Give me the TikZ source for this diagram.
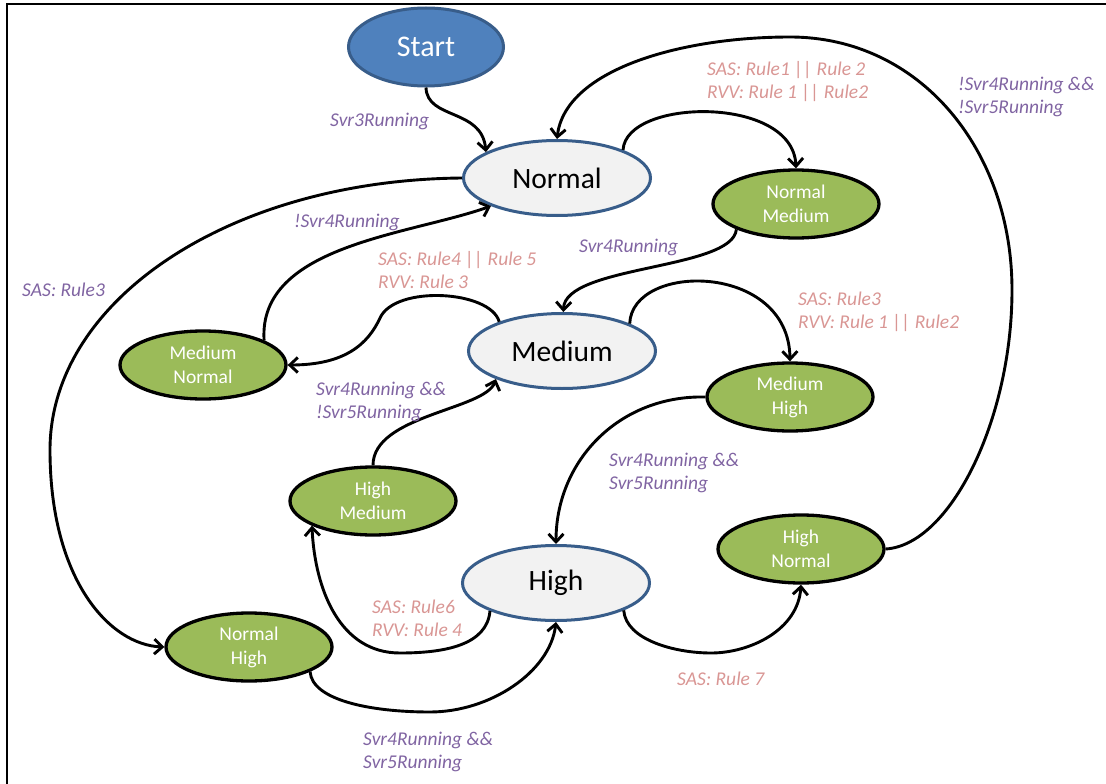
\documentclass[tikz,border=0pt]{standalone}
\usepackage{fontspec}
\setmainfont{Carlito}
\usetikzlibrary{arrows.meta,shapes.geometric}

\definecolor{startfill}{HTML}{4F81BD}
\definecolor{stateline}{HTML}{385D8A}
\definecolor{statefill}{HTML}{F2F2F2}
\definecolor{subfill}{HTML}{9BBB59}
\definecolor{condpurple}{HTML}{8064A2}
\definecolor{rulepink}{HTML}{D99694}

\tikzset{
  startnode/.style={ellipse, draw=stateline, fill=startfill, line width=3pt,
    minimum width=155pt, minimum height=78pt, inner sep=0pt, text=white,
    font=\fontsize{30}{34}\selectfont},
  mainstate/.style={ellipse, draw=stateline, fill=statefill, line width=3pt,
    minimum width=187pt, minimum height=75pt, inner sep=0pt, text=black,
    font=\fontsize{29.5}{34}\selectfont},
  substate/.style={ellipse, draw=black, fill=subfill, line width=3.3pt,
    minimum width=166pt, minimum height=68pt, inner sep=0pt, text=white,
    align=center, font=\fontsize{19.5}{24}\selectfont},
  trans/.style={draw, line width=2.9pt,
    -{Straight Barb[length=8pt,width=15pt]}},
  condlabel/.style={anchor=west, align=left, inner sep=0pt, text=condpurple,
    font=\itshape\fontsize{19.5}{23}\selectfont},
  rulelabel/.style={anchor=west, align=left, inner sep=0pt, text=rulepink,
    font=\itshape\fontsize{19.5}{23}\selectfont},
}

\begin{document}
\begin{tikzpicture}[x=1pt,y=-1pt]
\useasboundingbox (0,0) rectangle (1106,784);

% frame
\draw[line width=2.5pt, line join=miter] (7,784) -- (7,4) -- (1106,4);

% states
\node[startnode] (start)  at (426,47)  {Start};
\node[mainstate] (normal) at (557,178) {Normal};
\node[mainstate] (medium) at (562,351) {Medium};
\node[mainstate] (high)   at (556,583) {High};
\node[substate]  (nm) at (796,204) {Normal\\Medium};
\node[substate]  (mn) at (203,365) {Medium\\Normal};
\node[substate]  (mh) at (790,397) {Medium\\High};
\node[substate]  (hm) at (373,501) {High\\Medium};
\node[substate]  (hn) at (801,549) {High\\Normal};
\node[substate]  (nh) at (249,647) {Normal\\High};

% transitions
\draw[trans] (start.south) .. controls (427,120) and (482,108) .. (normal.160);
\draw[trans] (normal.23) .. controls (626,98) and (793,95) .. (nm.north);
\draw[trans] (hn.east) .. controls (950,545) and (1012,420) .. (1012,290)
  .. controls (1012,150) and (920,37) .. (790,37)
  .. controls (680,37) and (565,70) .. (normal.north);
\draw[trans] (nm.203) .. controls (733,270) and (565,265) .. (medium.88);
\draw[trans] (normal.west) .. controls (230,180) and (50,300) .. (50,450)
  .. controls (50,580) and (110,645) .. (nh.west);
\draw[trans] (mn.22) .. controls (258,245) and (410,235) .. (normal.203);
\draw[trans] (medium.155) .. controls (490,290) and (395,285) .. (380,318)
  .. controls (368,344) and (345,365) .. (mn.east);
\draw[trans] (medium.22) .. controls (632,262) and (789,262) .. (mh.north);
\draw[trans] (mh.west) .. controls (620,395) and (556,460) .. (high.north);
\draw[trans] (hm.north) .. controls (373,415) and (485,410) .. (medium.203);
\draw[trans] (high.203) .. controls (487,645) and (445,653) .. (400,653)
  .. controls (340,653) and (315,590) .. (hm.202);
\draw[trans] (nh.-22) .. controls (312,700) and (370,712) .. (430,712)
  .. controls (490,712) and (550,672) .. (high.south);
\draw[trans] (high.-22) .. controls (626,640) and (675,653) .. (711,653)
  .. controls (750,653) and (798,630) .. (hn.south);

% transition conditions
\node[condlabel] (l1)  at (330,121)   {Svr3Running};
\node[rulelabel] (l2)  at (707,81.5)  {SAS: Rule1 || Rule 2\\RVV: Rule 1 || Rule2};
\node[condlabel] (l3)  at (958,97)    {!Svr4Running \&\&\\!Svr5Running};
\node[condlabel] (l4)  at (294,222)   {!Svr4Running};
\node[condlabel] (l5)  at (579,247)   {Svr4Running};
\node[condlabel] (l6)  at (22,290)    {SAS: Rule3};
\node[rulelabel] (l7)  at (378,270)   {SAS: Rule4 || Rule 5\\RVV: Rule 3};
\node[rulelabel] (l8)  at (798,311.5) {SAS: Rule3\\RVV: Rule 1 || Rule2};
\node[condlabel] (l9)  at (316,401.5) {Svr4Running \&\&\\!Svr5Running};
\node[condlabel] (l10) at (609,472.5) {Svr4Running \&\&\\Svr5Running};
\node[rulelabel] (l11) at (372,618.5) {SAS: Rule6\\RVV: Rule 4};
\node[rulelabel] (l12) at (677,679)   {SAS: Rule 7};
\node[condlabel] (l13) at (363,751.5) {Svr4Running \&\&\\Svr5Running};
\end{tikzpicture}
\end{document}
